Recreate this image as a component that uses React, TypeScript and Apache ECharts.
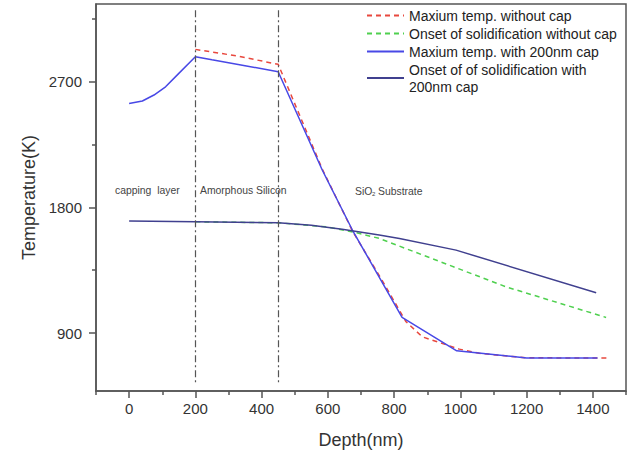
import React, { useEffect, useRef } from "react";
import * as echarts from "echarts";

const xMajor = [0, 200, 400, 600, 800, 1000, 1200, 1400];
const yMajor = [900, 1800, 2700];
const yMinor = [1350, 2250, 3150];
const layerBounds = [200, 450];

const seriesNames = [
  "Maxium temp. without cap",
  "Onset of solidification without cap",
  "Maxium temp. with 200nm cap",
  "Onset of of solidification with\n200nm cap",
];

const maxNoCap: [number, number][] = [
  [200, 2932], [325, 2885], [450, 2825], [583, 2075], [674, 1632], [760, 1292],
  [836, 981], [885, 873], [997, 785], [1057, 755], [1198, 723], [1444, 721],
];
const onsetNoCap: [number, number][] = [
  [200, 1697], [450, 1690], [600, 1660], [680, 1622], [755, 1578], [1138, 1231], [1440, 1012],
];
const maxCap: [number, number][] = [
  [0, 2545], [40, 2562], [75, 2605], [110, 2664], [150, 2760], [200, 2879], [250, 2857],
  [350, 2815], [450, 2772], [583, 2068], [674, 1638], [824, 1012], [989, 773], [1200, 721], [1414, 721],
];
const onsetCap: [number, number][] = [
  [0, 1702], [200, 1697], [450, 1690], [550, 1672], [643, 1643], [755, 1602], [816, 1578],
  [987, 1494], [1410, 1189],
];

const FONT = "Liberation Sans, Arial, sans-serif";

export default function App() {
  const ref = useRef<HTMLDivElement>(null);
  useEffect(() => {
    if (!ref.current) return;
    const chart = echarts.init(ref.current, undefined, { renderer: "svg" });
    const axisColor = "#555";
    const vLine = (x: number) => [{ coord: [x, 3213] }, { coord: [x, 542] }];
    const fmt = (v: number) => String(v);
    chart.setOption({
      animation: false,
      backgroundColor: "#fff",
      grid: { left: 96, right: 8, top: 4, bottom: 64, show: true, borderColor: axisColor, borderWidth: 1.5 },
      legend: {
        orient: "vertical",
        left: 361,
        top: 2,
        itemWidth: 37,
        itemHeight: 10,
        itemGap: 1,
        itemStyle: { opacity: 0, borderWidth: 0 },
        textStyle: { fontSize: 14, lineHeight: 17, color: "#222", fontFamily: FONT },
        data: seriesNames,
      },
      xAxis: [
        {
          type: "value", min: -100, max: 1500, position: "bottom",
          axisLine: { show: true, onZero: false, lineStyle: { color: axisColor, width: 1.5 } },
          axisTick: { show: true, length: 7, customValues: xMajor, lineStyle: { color: axisColor, width: 1.5 } },
          axisLabel: { customValues: xMajor, formatter: fmt, fontSize: 15, color: "#333", margin: 10, fontFamily: FONT },
          splitLine: { show: false },
          name: "Depth(nm)", nameLocation: "middle", nameGap: 40,
          nameTextStyle: { fontSize: 18, color: "#333", fontFamily: FONT },
        },
        {
          type: "value", min: -100, max: 1500, interval: 200, position: "bottom",
          axisLine: { show: false, onZero: false },
          axisTick: { show: true, length: 4, lineStyle: { color: axisColor, width: 1.5 } },
          axisLabel: { show: false },
          splitLine: { show: false },
        },
      ],
      yAxis: [
        {
          type: "value", min: 485, max: 3257, position: "left",
          axisLine: { show: true, onZero: false, lineStyle: { color: axisColor, width: 1.5 } },
          axisTick: { show: true, length: 7, customValues: yMajor, lineStyle: { color: axisColor, width: 1.5 } },
          axisLabel: { customValues: yMajor, formatter: fmt, fontSize: 15, color: "#333", margin: 14, fontFamily: FONT },
          splitLine: { show: false },
          name: "Temperature(K)", nameLocation: "middle", nameGap: 58,
          nameTextStyle: { fontSize: 18, color: "#333", fontFamily: FONT },
        },
        {
          type: "value", min: 485, max: 3257, position: "left",
          axisLine: { show: false, onZero: false },
          axisTick: { show: true, length: 4, customValues: yMinor, lineStyle: { color: axisColor, width: 1.5 } },
          axisLabel: { show: false },
          splitLine: { show: false },
        },
      ],
      series: [
        {
          name: seriesNames[0], type: "line", data: maxNoCap, symbol: "none",
          lineStyle: { color: "#e8483e", width: 1.5, type: [5, 4] }, itemStyle: { color: "#e8483e" },
          z: 3,
        },
        {
          name: seriesNames[1], type: "line", data: onsetNoCap, symbol: "none",
          lineStyle: { color: "#4fd04f", width: 1.5, type: [5, 4] }, itemStyle: { color: "#4fd04f" },
          z: 3,
        },
        {
          name: seriesNames[2], type: "line", data: maxCap, symbol: "none",
          lineStyle: { color: "#4848e6", width: 1.5 }, itemStyle: { color: "#4848e6" },
          z: 4,
          markLine: {
            silent: true, symbol: "none", label: { show: false },
            lineStyle: { color: "#555", width: 1.2, type: [7, 3, 2, 3] },
            data: layerBounds.map(vLine),
          },
        },
        {
          name: seriesNames[3], type: "line", data: onsetCap, symbol: "none",
          lineStyle: { color: "#40408f", width: 1.5 }, itemStyle: { color: "#40408f" },
          z: 4,
        },
      ],
      graphic: [
        { type: "text", x: 115, y: 190, style: { text: "capping  layer", font: `10.4px ${FONT}`, fill: "#444", verticalAlign: "middle" } },
        { type: "text", x: 200, y: 190, style: { text: "Amorphous Silicon", font: `10.4px ${FONT}`, fill: "#444", verticalAlign: "middle" } },
        { type: "text", x: 355, y: 191, style: { text: "SiO", font: `10.4px ${FONT}`, fill: "#444", verticalAlign: "middle" } },
        { type: "text", x: 372, y: 194, style: { text: "2", font: `6px ${FONT}`, fill: "#444", verticalAlign: "middle" } },
        { type: "text", x: 378, y: 191, style: { text: "Substrate", font: `10.4px ${FONT}`, fill: "#444", verticalAlign: "middle" } },
      ],
    });
    return () => chart.dispose();
  }, []);
  return <div ref={ref} style={{ position: "fixed", left: 0, top: 0, width: 634, height: 455 }} />;
}
